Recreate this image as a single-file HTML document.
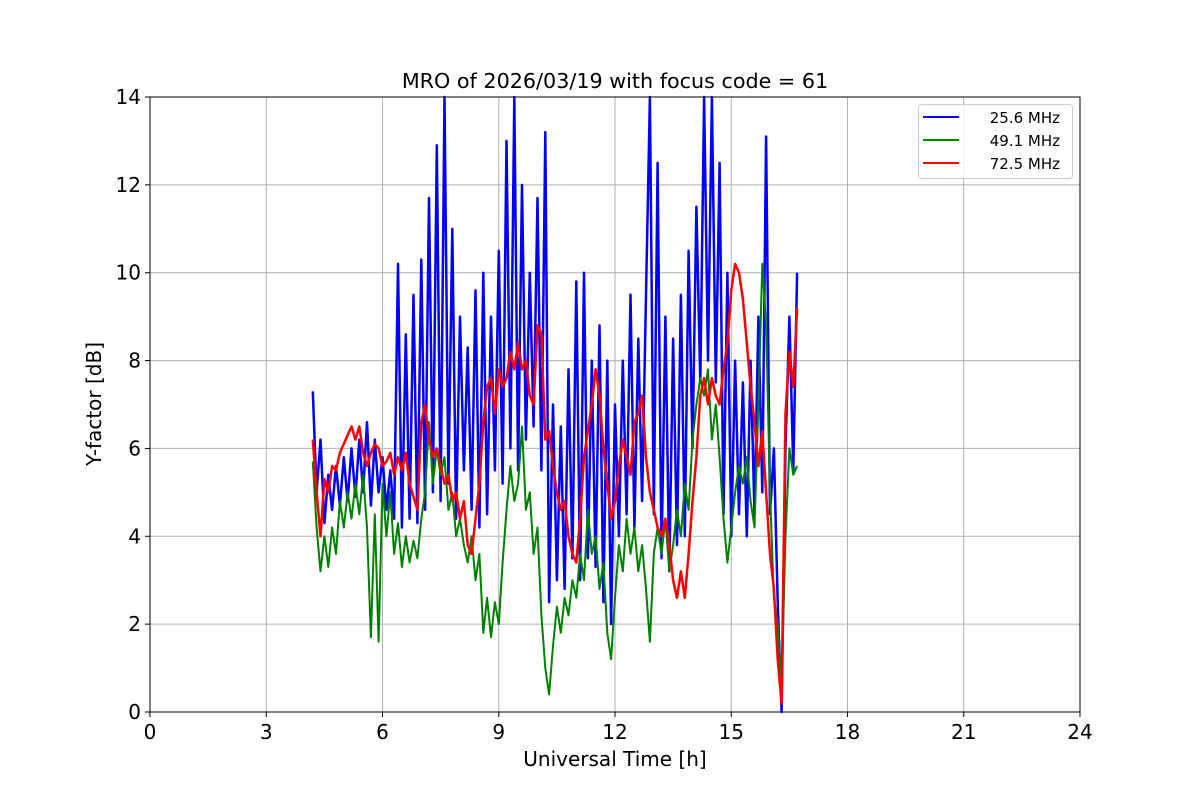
<!DOCTYPE html>
<html><head><meta charset="utf-8"><style>
body{margin:0;background:#fff;}
svg text{font-family:"DejaVu Sans","Liberation Sans",sans-serif;}
</style></head><body>
<svg id="chart" width="1200" height="800" xmlns="http://www.w3.org/2000/svg">
<rect width="1200" height="800" fill="#fff"/>
<text x="615" y="88" text-anchor="middle" font-size="20.7">MRO of 2026/03/19 with focus code = 61</text>
<g id="grid"></g>
<g id="xticks"></g>
<g id="yticks"></g>
<g id="series"></g>
<rect x="150" y="97" width="930" height="615" fill="none" stroke="#000" stroke-width="1"/>
<text x="615" y="766" text-anchor="middle" font-size="20">Universal Time [h]</text>
<text transform="translate(101,404) rotate(-90)" text-anchor="middle" font-size="20">Y-factor [dB]</text>
<g>
<rect x="918.5" y="104.5" width="154" height="74" rx="3" fill="#fff" fill-opacity="0.8" stroke="#ccc"/>
<line x1="923" y1="117" x2="959" y2="117" stroke="#0000ff" stroke-width="2"/>
<text x="1060" y="123" text-anchor="end" font-size="15">25.6 MHz</text>
<line x1="923" y1="140" x2="959" y2="140" stroke="#008000" stroke-width="2"/>
<text x="1060" y="146" text-anchor="end" font-size="15">49.1 MHz</text>
<line x1="923" y1="163" x2="959" y2="163" stroke="#ff0000" stroke-width="2"/>
<text x="1060" y="169" text-anchor="end" font-size="15">72.5 MHz</text>
</g>
</svg>
<script>
const xTicks=[0,3,6,9,12,15,18,21,24];
const yTicks=[0,2,4,6,8,10,12,14];
const tStart=4.2, tStep=0.1;
const blue=[7.3,5.0,6.2,4.3,5.4,4.6,5.6,4.7,5.8,4.8,6.0,4.9,6.2,5.0,6.6,4.7,6.2,5.0,5.8,4.6,5.5,4.4,10.2,4.2,8.6,4.4,9.5,4.3,10.3,4.6,11.7,5.0,12.9,4.8,14.0,5.2,11.0,4.4,9.0,5.5,8.3,4.6,9.6,4.2,10.0,4.5,9.0,5.5,10.5,5.2,13.0,6.0,14.0,5.5,12.0,6.2,10.0,6.5,11.7,5.5,13.2,2.5,7.0,3.0,6.5,2.8,7.8,3.5,9.8,3.0,10.0,3.5,8.0,3.3,8.8,2.5,8.0,2.0,7.0,4.0,8.0,4.5,9.5,4.2,8.5,4.8,9.5,14.0,4.5,12.5,3.5,9.0,3.2,8.5,3.8,9.5,4.0,10.5,6.0,11.5,7.5,14.0,8.0,14.0,7.5,12.5,4.5,10.0,4.0,8.0,4.5,7.5,4.0,8.0,4.5,9.0,5.0,13.1,4.5,6.0,2.5,0.0,6.0,9.0,5.5,10.0];
const green=[5.7,4.2,3.2,4.0,3.3,4.2,3.6,4.8,4.2,5.0,4.4,5.2,4.5,5.4,4.2,1.7,4.5,1.6,5.2,4.0,5.0,3.6,4.3,3.3,4.0,3.4,3.9,3.5,4.4,5.0,6.6,5.2,6.0,5.4,5.8,4.6,5.0,4.0,4.4,3.8,3.4,4.0,3.0,3.6,1.8,2.6,1.7,2.5,2.0,3.4,4.6,5.6,4.8,5.2,6.5,4.6,5.0,3.6,4.2,2.2,1.0,0.4,1.5,2.4,1.8,2.6,2.2,3.0,2.6,3.6,3.0,4.6,3.6,4.0,2.8,3.4,1.8,1.2,2.6,3.8,3.2,4.4,3.6,4.2,3.2,3.8,2.8,1.6,3.6,4.2,3.6,4.4,3.2,3.8,4.6,4.0,5.2,4.6,6.2,7.0,7.6,7.2,7.8,6.2,7.0,5.8,4.4,3.4,4.2,5.0,5.6,5.2,5.8,4.8,4.2,7.0,10.2,8.8,5.0,2.6,2.0,0.6,4.0,6.0,5.4,5.6];
const red=[6.2,5.0,4.0,5.3,5.0,5.6,5.5,5.9,6.1,6.3,6.5,6.2,6.5,5.9,5.6,5.9,6.1,6.0,5.6,5.7,5.9,5.4,5.8,5.5,5.9,5.2,4.9,4.6,6.6,7.0,6.2,5.8,6.0,5.6,5.2,5.4,4.8,5.0,4.4,4.8,3.8,3.6,4.4,5.2,6.6,7.4,7.6,6.8,7.8,7.4,7.6,8.2,7.8,8.4,7.8,8.0,7.2,7.0,8.8,8.6,6.2,6.4,5.6,5.0,4.6,4.8,4.0,3.6,3.4,4.4,5.8,6.4,7.0,7.8,7.2,6.0,5.2,4.4,4.8,5.6,6.2,5.8,5.4,6.6,6.8,7.2,5.8,5.0,4.6,4.2,4.0,4.4,3.8,3.0,2.6,3.2,2.6,3.6,4.8,5.8,7.2,7.6,7.0,7.6,7.2,7.0,7.8,8.4,9.6,10.2,10.0,9.4,8.4,7.4,6.6,5.6,6.4,5.0,3.6,2.8,1.2,0.2,6.8,8.2,7.4,9.2];

const NS="http://www.w3.org/2000/svg";
const X0=150,X1=1080,Y0=712,Y1=97;
const xs=v=>X0+(v-0)/(24-0)*(X1-X0);
const ys=v=>Y0-(v-0)/(14-0)*(Y0-Y1);
const grid=document.getElementById('grid'),xg=document.getElementById('xticks'),yg=document.getElementById('yticks'),sg=document.getElementById('series');
function mk(tag,attrs,parent){const e=document.createElementNS(NS,tag);for(const k in attrs)e.setAttribute(k,attrs[k]);parent.appendChild(e);return e;}
xTicks.forEach(v=>{
  const x=xs(v);
  const gl=mk('line',{x1:x,x2:x,y1:Y1,y2:Y0,stroke:'#b0b0b0','stroke-width':1},grid);
  
  
  const tk=mk('line',{x1:x,x2:x,y1:Y0,y2:Y0+5,stroke:'#000'},xg);
  
  
  const t=mk('text',{x:x,y:Y0+27,'text-anchor':'middle','font-size':20},xg);
  t.textContent=v;
  
  
});
yTicks.forEach(v=>{
  const y=ys(v);
  const gl=mk('line',{x1:X0,x2:X1,y1:y,y2:y,stroke:'#b0b0b0','stroke-width':1},grid);
  
  
  const tk=mk('line',{x1:X0-5,x2:X0,y1:y,y2:y,stroke:'#000'},yg);
  
  
  const t=mk('text',{x:X0-9,y:y+7,'text-anchor':'end','font-size':20},yg);
  t.textContent=v;
  
  
});
function draw(vals,color,name,w){
  const pts=vals.map((v,i)=>xs(tStart+i*tStep).toFixed(1)+','+ys(v).toFixed(1)).join(' ');
  const p=mk('polyline',{points:pts,fill:'none',stroke:color,'stroke-width':w,'stroke-linejoin':'round'},sg);
  
  
}
draw(blue,'#0000ff','series-25-6-mhz',2.5);
draw(green,'#008000','series-49-1-mhz',2);
draw(red,'#ff0000','series-72-5-mhz',2.5);
</script>
</body></html>
